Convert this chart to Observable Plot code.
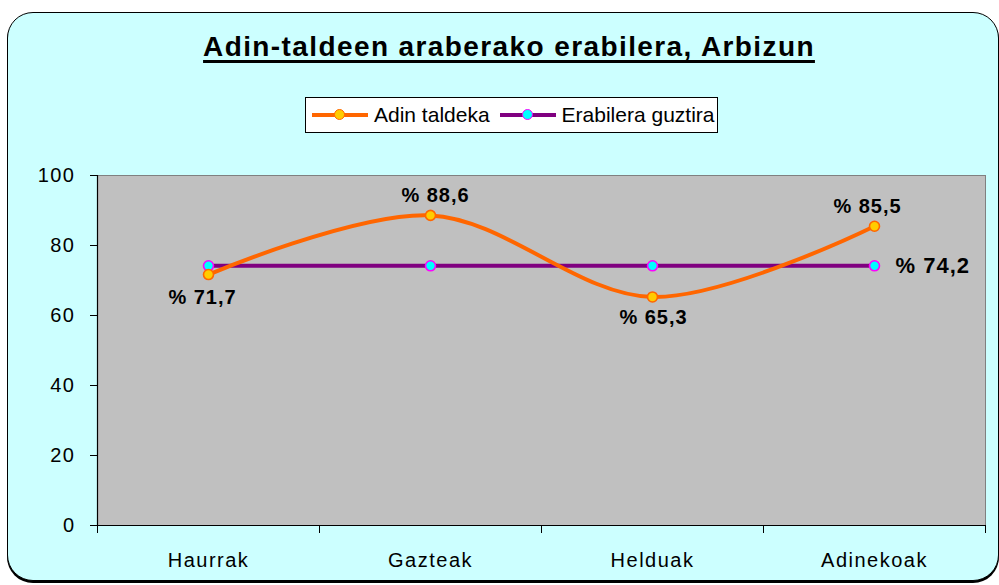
<!DOCTYPE html>
<html>
<head>
<meta charset="utf-8">
<script src="https://cdn.jsdelivr.net/npm/d3@7"></script>
<script src="https://cdn.jsdelivr.net/npm/@observablehq/plot@0.6"></script>
<style>
  html, body { margin: 0; padding: 0; background: #ffffff; }
  #wrap { position: relative; width: 999px; height: 585px; overflow: hidden; font-family: "Liberation Sans", Arial, sans-serif; }
  #frame { position: absolute; left: 7px; top: 12px; width: 992px; height: 569px; background: #CCFFFF;
           border: 1.5px solid #000; border-radius: 26px; box-shadow: 0px 2px 0 #000; box-sizing: border-box; }
  #title { position: absolute; left: 0; width: 1018px; top: 31px; text-align: center; font-weight: bold; font-size: 28px;
           letter-spacing: 1.4px; text-decoration: underline; text-decoration-thickness: 3px; text-underline-offset: 4px; color: #000; }
  #legend { position: absolute; left: 305px; top: 97px; width: 413px; height: 36px; background: #fff; border: 1px solid #000;
            box-sizing: border-box; display: flex; align-items: center; font-size: 21px; color: #000; }
  .item { display: flex; align-items: center; margin-left: 6px; }
  .item + .item { margin-left: 10px; }
  .sw { position: relative; width: 56px; height: 12px; margin-right: 6px; }
  .sw .ln { position: absolute; left: 0; right: 0; top: 4px; height: 4px; }
  .sw .mk { position: absolute; left: 22px; top: 0px; width: 9px; height: 9px; border-radius: 50%; border: 1.5px solid; }
  #chart { position: absolute; left: 0; top: 0; }
  #chart svg text { letter-spacing: 1.5px; }
  #chart svg g.lab text { letter-spacing: 1px; }
</style>
</head>
<body>
<div id="wrap">
  <div id="frame"></div>
  <div id="title">Adin-taldeen araberako erabilera, Arbizun</div>
  <div id="legend">
    <div class="item"><div class="sw"><div class="ln" style="background:#FF6600"></div><div class="mk" style="background:#FFCC00;border-color:#FF6600"></div></div>Adin taldeka</div>
    <div class="item"><div class="sw"><div class="ln" style="background:#800080"></div><div class="mk" style="background:#00FFFF;border-color:#FF00FF"></div></div>Erabilera guztira</div>
  </div>
  <div id="chart"></div>
</div>
<script>
const categories = ["Haurrak", "Gazteak", "Helduak", "Adinekoak"];
const adinTaldeka = [71.7, 88.6, 65.3, 85.5];
const erabileraGuztira = [74.2, 74.2, 74.2, 74.2];
const yTicks = [0, 20, 40, 60, 80, 100];
const labelsAdin = ["% 71,7", "% 88,6", "% 65,3", "% 85,5"];
const labelTotal = "% 74,2";

const adin = categories.map((c, i) => ({cat: c, pos: i + 0.5, v: adinTaldeka[i], label: labelsAdin[i]}));
const total = categories.map((c, i) => ({cat: c, pos: i + 0.5, v: erabileraGuztira[i]}));
const below = new Set(["Haurrak", "Helduak"]);

const chart = Plot.plot({
  width: 999,
  height: 585,
  marginLeft: 97,
  marginRight: 14,
  marginTop: 175,
  marginBottom: 60,
  style: {background: "transparent", fontFamily: "Liberation Sans, Arial, sans-serif", color: "#000"},
  x: {type: "linear", domain: [0, categories.length]},
  y: {domain: [0, 100]},
  marks: [
    Plot.frame({fill: "#C0C0C0", stroke: "#808080", strokeWidth: 1}),
    Plot.axisY({ticks: yTicks, tickSize: 7, tickPadding: 15, fontSize: 20, label: null, stroke: "#000", strokeOpacity: 1}),
    Plot.axisX({ticks: d3.range(categories.length + 1), tickSize: 8, tickFormat: () => "", label: null, strokeOpacity: 1}),
    Plot.axisX({ticks: categories.map((c, i) => i + 0.5), tickSize: 0, tickPadding: 27, tickFormat: (d) => categories[Math.round(d - 0.5)], fontSize: 20, label: null}),
    Plot.ruleX([0], {stroke: "#000", strokeWidth: 1.2}),
    Plot.ruleY([0], {stroke: "#000", strokeWidth: 1.2}),
    Plot.line(total, {x: "pos", y: "v", stroke: "#800080", strokeWidth: 4}),
    Plot.line(adin, {x: "pos", y: "v", stroke: "#FF6600", strokeWidth: 4, curve: "catmull-rom"}),
    Plot.dot(total, {x: "pos", y: "v", r: 5, fill: "#00FFFF", stroke: "#FF00FF", strokeWidth: 1.6}),
    Plot.dot(adin, {x: "pos", y: "v", r: 5, fill: "#FFCC00", stroke: "#FF6600", strokeWidth: 1.6}),
    Plot.text(adin.filter(d => d.cat === "Gazteak"), {x: "pos", y: "v", text: "label", dy: -20, dx: 5, fontSize: 20, fontWeight: "bold", className: "lab"}),
    Plot.text(adin.filter(d => d.cat === "Adinekoak"), {x: "pos", y: "v", text: "label", dy: -20, dx: -7, fontSize: 20, fontWeight: "bold", className: "lab"}),
    Plot.text(adin.filter(d => d.cat === "Haurrak"), {x: "pos", y: "v", text: "label", dy: 23, dx: -6, fontSize: 20, fontWeight: "bold", className: "lab"}),
    Plot.text(adin.filter(d => d.cat === "Helduak"), {x: "pos", y: "v", text: "label", dy: 21, dx: 1, fontSize: 20, fontWeight: "bold", className: "lab"}),
    Plot.text(total.slice(-1), {x: "pos", y: "v", text: () => labelTotal, dx: 21, textAnchor: "start", fontSize: 22, fontWeight: "bold", className: "lab"})
  ]
});
document.getElementById("chart").appendChild(chart);
</script>
</body>
</html>
